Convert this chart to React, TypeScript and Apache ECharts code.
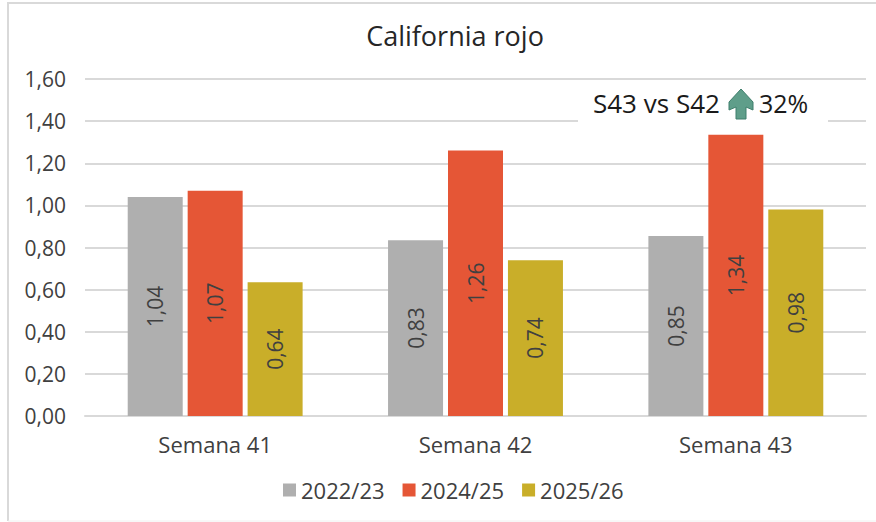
import React, { useEffect, useRef } from "react";
import * as echarts from "echarts";

const categories = ["Semana 41", "Semana 42", "Semana 43"];
const seriesNames = ["2022/23", "2024/25", "2025/26"];
const values2223 = [1.04, 0.835, 0.855];
const values2425 = [1.07, 1.26, 1.335];
const values2526 = [0.635, 0.74, 0.98];
const labels2223 = ["1,04", "0,83", "0,85"];
const labels2425 = ["1,07", "1,26", "1,34"];
const labels2526 = ["0,64", "0,74", "0,98"];
const colors = ["#AFAFAF", "#E55636", "#C9AE29"];
const titleText = "California rojo";
const noteLeft = "S43 vs S42";
const noteRight = "32%";
const FONT = "Open Sans";
const TEXT = "#404040";

echarts.graphic.registerShape(
  "upArrow",
  echarts.graphic.extendPath("M12 0 L24 13 L24 21 L17 18 L17 30 L7 30 L7 18 L0 21 L0 13 Z", {}) as any
);

const makeSeries = (name: string, data: number[], labels: string[], color: string) => ({
  name,
  type: "bar",
  data,
  barWidth: 55,
  barGap: "9%",
  itemStyle: { color },
  label: {
    show: true,
    position: "inside",
    rotate: 90,
    color: TEXT,
    fontFamily: FONT,
    fontSize: 21,
    formatter: (p: any) => labels[p.dataIndex],
  },
});

export default function App() {
  const ref = useRef<HTMLDivElement>(null);
  useEffect(() => {
    const chart = echarts.init(ref.current!, null, { renderer: "svg" });
    chart.setOption({
      animation: false,
      backgroundColor: "#FFFFFF",
      textStyle: { fontFamily: FONT },
      title: {
        text: titleText,
        left: 450,
        top: 17,
        textAlign: "center",
        textStyle: { fontFamily: FONT, fontSize: 27, fontWeight: "normal", color: "#262626" },
      },
      grid: { left: 85, right: 10, top: 79, bottom: 106 },
      legend: {
        left: 278,
        top: 474,
        itemWidth: 13,
        itemHeight: 13,
        itemGap: 18,
        icon: "rect",
        data: seriesNames,
        textStyle: { fontFamily: FONT, fontSize: 22, color: TEXT },
      },
      xAxis: {
        type: "category",
        data: categories,
        axisTick: { show: false },
        axisLine: { lineStyle: { color: "#D9D9D9", width: 2 } },
        axisLabel: { color: TEXT, fontFamily: FONT, fontSize: 22, margin: 17 },
      },
      yAxis: {
        type: "value",
        min: 0,
        max: 1.6,
        interval: 0.2,
        axisLine: { show: false },
        axisTick: { show: false },
        splitLine: { lineStyle: { color: "#D9D9D9", width: 2 } },
        axisLabel: {
          color: TEXT,
          fontFamily: FONT,
          fontSize: 21,
          margin: 19,
          formatter: (v: number) => v.toFixed(2).replace(".", ","),
        },
      },
      series: [
        makeSeries(seriesNames[0], values2223, labels2223, colors[0]),
        makeSeries(seriesNames[1], values2425, labels2425, colors[1]),
        makeSeries(seriesNames[2], values2526, labels2526, colors[2]),
      ],
      graphic: [
        {
          type: "polyline",
          z: 10,
          shape: { points: [[876, 3], [8, 3], [8, 521]] },
          style: { fill: "none", stroke: "#D9D9D9", lineWidth: 2 },
          silent: true,
        },
        {
          type: "line",
          z: 10,
          shape: { x1: 8, y1: 521, x2: 876, y2: 521 },
          style: { stroke: "#F0F0F0", lineWidth: 1 },
          silent: true,
        },
        {
          type: "rect",
          z: 11,
          shape: { x: 578, y: 90, width: 250, height: 36 },
          style: { fill: "#FFFFFF" },
        },
        {
          type: "text",
          z: 12,
          x: 593,
          y: 90,
          style: { text: noteLeft, fontFamily: FONT, fontSize: 26, fill: "#1A1A1A" },
        },
        {
          type: "upArrow",
          z: 12,
          x: 729,
          y: 89,
          scaleX: 1,
          scaleY: 1,
          style: { fill: "#5F9E8A", stroke: "#3F7F6C", lineWidth: 1 },
        },
        {
          type: "text",
          z: 12,
          x: 759,
          y: 90,
          style: { text: noteRight, fontFamily: FONT, fontSize: 25, fill: "#1A1A1A" },
        },
      ],
    });
    return () => chart.dispose();
  }, []);
  return <div ref={ref} style={{ position: "fixed", left: 0, top: 0, width: 876, height: 522 }} />;
}
